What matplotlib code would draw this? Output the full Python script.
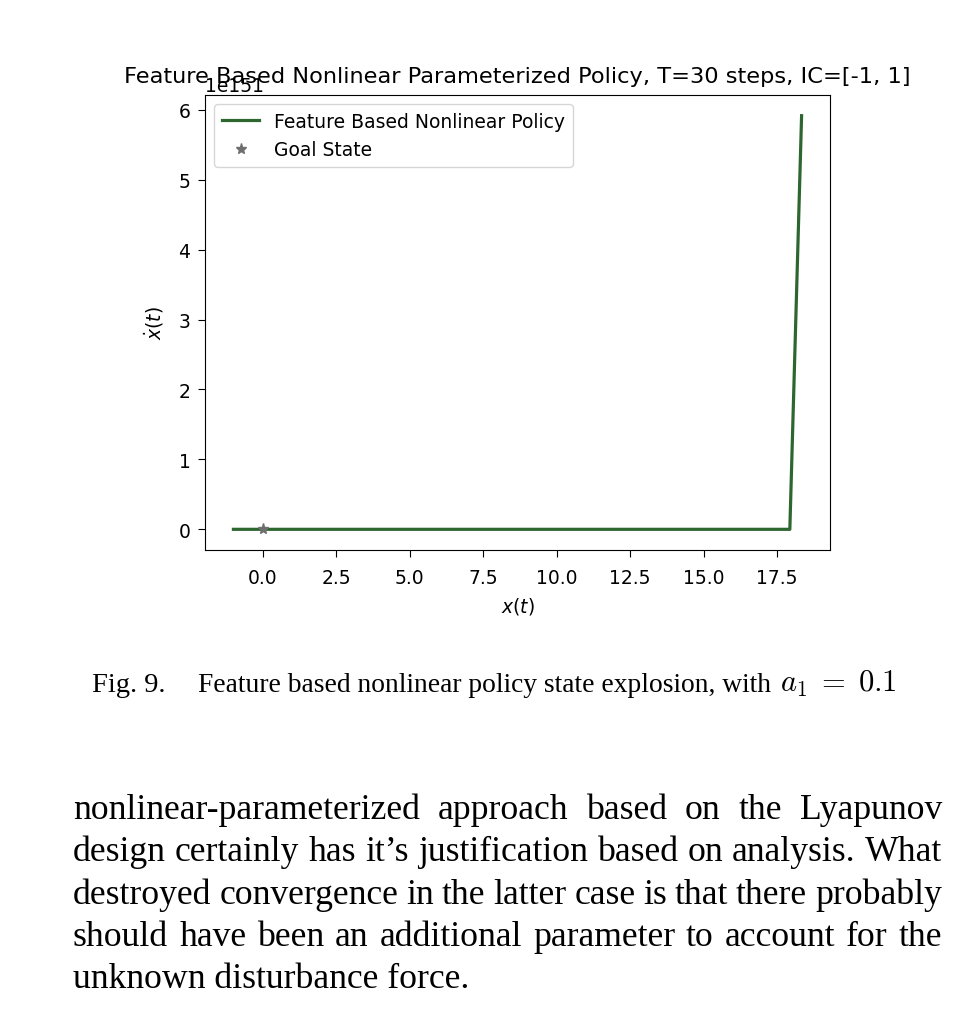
import matplotlib
matplotlib.use("Agg")
import matplotlib.pyplot as plt

# trajectory (x, xdot); the last step blows up
x_traj = [-1.0, -0.6, 0.2, 1.5, 3.4, 5.9, 8.7, 11.6, 14.4, 16.6, 17.93, 18.33]
xdot_traj = [1.0, 0.9, 1.2, 1.8, 2.6, 3.1, 2.9, 2.7, 2.3, 1.6, 3.9e4, 5.915e151]
goal_x = [0.0]
goal_y = [0.0]

title = "Feature Based Nonlinear Parameterized Policy, T=30 steps, IC=[-1, 1]"
caption_fig = "Fig. 9."
caption_txt = "Feature based nonlinear policy state explosion, with"
caption_math = r"$a_1\;=\;0.1$"
paragraph = [
    "nonlinear-parameterized approach based on the Lyapunov",
    "design certainly has it\u2019s justification based on analysis. What",
    "destroyed convergence in the latter case is that there probably",
    "should have been an additional parameter to account for the",
    "unknown disturbance force.",
]

W, H = 974, 1012
fs = 13.5
fig = plt.figure(figsize=(W / 100, H / 100), dpi=100)
ax = fig.add_axes([205 / W, 1 - 551 / H, 625 / W, 455 / H])

ax.plot(x_traj, xdot_traj, color="#2e6630", lw=2.3, label="Feature Based Nonlinear Policy")
ax.plot(goal_x, goal_y, ls="none", marker="*", ms=8, color="#6e6e6e", label="Goal State")

ax.set_xticks([0.0, 2.5, 5.0, 7.5, 10.0, 12.5, 15.0, 17.5])
ax.tick_params(labelsize=fs, length=5)
ax.tick_params(axis="x", pad=8)
ax.tick_params(axis="y", pad=5.5)
ax.yaxis.get_offset_text().set_fontsize(fs)
ax.set_xlabel(r"$x(t)$", fontsize=fs, labelpad=6)
ax.set_ylabel(r"$\dot{x}(t)$", fontsize=fs, labelpad=9)
ax.set_title(title, fontsize=16.2, y=1.0, pad=9)
ax.legend(loc="upper left", fontsize=fs)

# caption and body text below the chart
serif = "Liberation Serif"
cap_y = 1 - 692 / H
fig.text(92 / W, cap_y, caption_fig, fontsize=20.5, family=serif, va="baseline")
fig.text(198 / W, cap_y, caption_txt, fontsize=19.8, family=serif, va="baseline")
fig.text(780 / W, cap_y, caption_math, fontsize=22, va="baseline", math_fontfamily="cm")

left, right = 73, 942
renderer = fig.canvas.get_renderer()
for i, line in enumerate(paragraph):
    y = 1 - (819 + i * 42.3) / H
    words = line.split(" ")
    if i == len(paragraph) - 1:
        fig.text(left / W, y, line, fontsize=25.7, family=serif, va="baseline")
        continue
    texts = [fig.text(0, y, w_, fontsize=25.7, family=serif, va="baseline") for w_ in words]
    widths = [t.get_window_extent(renderer).width for t in texts]
    gap = (right - left - sum(widths)) / (len(words) - 1)
    xpos = left
    for t, wd in zip(texts, widths):
        t.set_x(xpos / W)
        xpos += wd + gap

fig.savefig("out.png", dpi=100)
